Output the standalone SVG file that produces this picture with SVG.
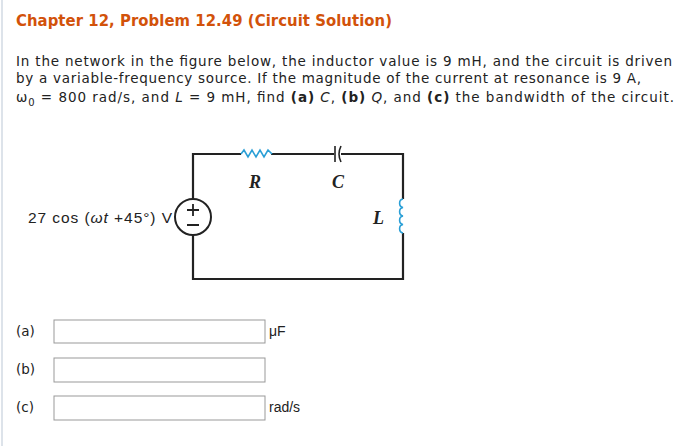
<svg xmlns="http://www.w3.org/2000/svg" width="698" height="446" viewBox="0 0 698 446">
<style>
.t{font-family:"DejaVu Sans",Verdana,sans-serif;font-size:13.5px;fill:#222}
.w{fill:none;stroke:#222;stroke-width:2.2}
.b{fill:none;stroke:#2a9fd6;stroke-width:1.6}
.i{font-family:"Liberation Serif",serif;font-style:italic;font-weight:bold;font-size:18px;fill:#222}
.box{fill:#fff;stroke:#999;stroke-width:1}
.a{font-family:"Liberation Sans",Arial,sans-serif;font-size:14px;fill:#222}
</style>
<rect width="698" height="446" fill="#fff"/>
<line x1="2" y1="0" x2="2" y2="446" stroke="#dde3ea" stroke-width="2"/>
<text x="16" y="26" font-family="'DejaVu Sans Condensed',Verdana,sans-serif" font-weight="bold" font-size="16.5" fill="#d2520a" textLength="376">Chapter 12, Problem 12.49 (Circuit Solution)</text>
<text class="t" x="16" y="66" textLength="656">In the network in the figure below, the inductor value is 9 mH, and the circuit is driven</text>
<text class="t" x="16" y="83" textLength="625">by a variable-frequency source. If the magnitude of the current at resonance is 9 A,</text>
<text class="t" x="16" y="102" textLength="658">ω<tspan font-size="10" dy="4">0</tspan><tspan dy="-4"> = 800 rad/s, and </tspan><tspan font-style="italic">L</tspan> = 9 mH, find <tspan font-weight="bold">(a)</tspan> <tspan font-style="italic">C</tspan>, <tspan font-weight="bold">(b)</tspan> <tspan font-style="italic">Q</tspan>, and <tspan font-weight="bold">(c)</tspan> the bandwidth of the circuit.</text>
<g id="circuit">
<path class="w" d="M193,199 V154 H241 M271,154 H334 M341,154 H403 V199 M403,233 V279 H193 V235"/>
<g id="R"><path class="b" d="M241,154 l3,-4 l4,7 l4,-7 l4,7 l4,-7 l4,7 l4,-7 l4,4"/><text class="i" x="249" y="188">R</text></g>
<g id="C"><line x1="335" y1="146" x2="335" y2="162" stroke="#222" stroke-width="1.6"/><path d="M341,146 q-4,8 0,16" fill="none" stroke="#222" stroke-width="1.6"/><text class="i" x="332" y="188">C</text></g>
<g id="L"><path class="b" d="M403,199 a4,4.3 0 0 0 0,8.5 a4,4.3 0 0 0 0,8.5 a4,4.3 0 0 0 0,8.5 a4,4.3 0 0 0 0,8.5"/><text class="i" x="373" y="224">L</text></g>
<g id="V"><circle cx="193" cy="217" r="18" fill="#fff" stroke="#222" stroke-width="2"/>
<path d="M187,210 h12 M193,204 v12 M187,225 h12" stroke="#222" stroke-width="1.8"/>
<text x="28" y="223" font-family="'Liberation Sans',Arial,sans-serif" font-size="15.5" fill="#222" textLength="144">27 cos (<tspan font-style="italic">ωt</tspan> +45°) V</text></g>
</g>
<g id="answers">
<text class="t" x="16" y="336" font-size="15">(a)</text><rect class="box" x="54" y="320" width="211" height="23"/><text class="a" x="269" y="336">μF</text>
<text class="t" x="16" y="374" font-size="15">(b)</text><rect class="box" x="54" y="358" width="211" height="24"/>
<text class="t" x="16" y="412" font-size="15">(c)</text><rect class="box" x="54" y="396" width="211" height="24"/><text class="a" x="269" y="412">rad/s</text>
</g>
</svg>
